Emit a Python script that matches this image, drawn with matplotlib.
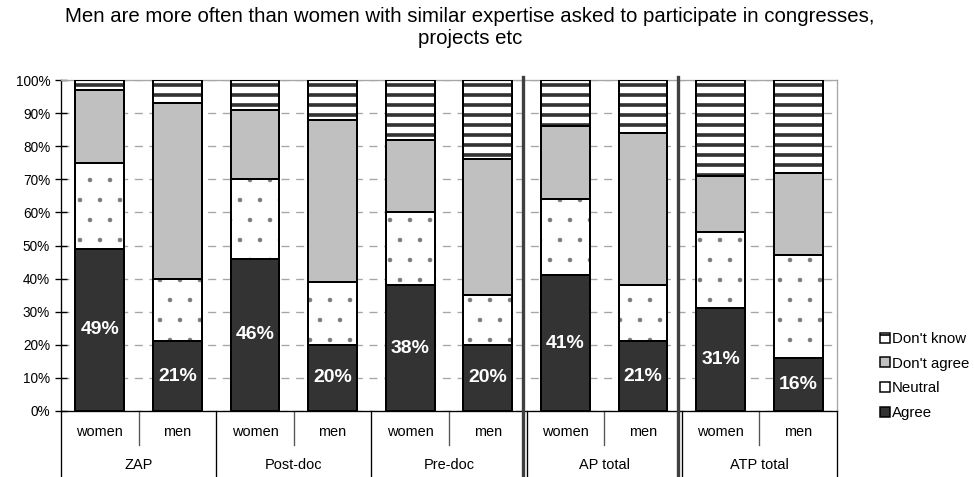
import matplotlib
matplotlib.use("Agg")
import matplotlib.pyplot as plt
import matplotlib.transforms as mtransforms
from matplotlib.patches import Patch
import numpy as np

plt.rcParams["font.family"] = ["Liberation Sans", "DejaVu Sans"]

# Survey answers (% of respondents) per group and gender
groups = ["ZAP", "Post-doc", "Pre-doc", "AP total", "ATP total"]
genders = ["women", "men"]
agree = [49, 21, 46, 20, 38, 20, 41, 21, 31, 16]
neutral = [26, 19, 24, 19, 22, 15, 23, 17, 23, 31]
disagree = [22, 53, 21, 49, 22, 41, 22, 46, 17, 25]
dont_know = [3, 7, 9, 12, 18, 24, 14, 16, 29, 28]
series_names = ["Agree", "Neutral", "Don't agree", "Don't know"]
title_lines = ["Men are more often than women with similar expertise asked to "
               "participate in congresses,", "projects etc"]

DPI = 120
W, H = 974, 477
fig = plt.figure(figsize=(W / DPI, H / DPI), dpi=DPI)
ax = fig.add_axes([61 / W, 1 - 411 / H, 776 / W, 331 / H])

n = len(agree)
x = np.arange(n) + 0.5
width = 0.63

styles = [
    dict(color="#333333", hatch=None, hcolor="#333333", hlw=0.5),
    dict(color="white", hatch=".", hcolor="#7a7a7a", hlw=0.3),
    dict(color="#c0c0c0", hatch=None, hcolor="#c0c0c0", hlw=0.5),
    dict(color="white", hatch="--", hcolor="#333333", hlw=2.2),
]

bottom = np.zeros(n)
handles = []
for vals, st, name in zip([agree, neutral, disagree, dont_know], styles, series_names):
    vals = np.asarray(vals, dtype=float)
    plt.rcParams["hatch.linewidth"] = st["hlw"]
    fill = ax.bar(x, vals, width, bottom=bottom, color=st["color"],
                  hatch=st["hatch"], edgecolor=st["hcolor"], linewidth=0,
                  zorder=2)
    for p in fill:
        if hasattr(p, "set_hatch_linewidth"):
            p.set_hatch_linewidth(st["hlw"])
    ax.bar(x, vals, width, bottom=bottom, fill=False, edgecolor="black",
           linewidth=1.2, zorder=3)
    plt.rcParams["hatch.linewidth"] = 1.0
    h = Patch(facecolor=st["color"], hatch=st["hatch"], edgecolor="black",
              linewidth=0.9)
    if hasattr(h, "set_hatch_linewidth"):
        h.set_hatch_linewidth(1.0)
    handles.append(h)
    bottom += vals

# value labels on the "Agree" segments
for xi, v in zip(x, agree):
    ax.text(xi, v / 2, f"{v}%", ha="center", va="center", color="white",
            fontsize=11.6, fontweight="bold", zorder=4)

ax.set_xlim(0, n)
ax.set_ylim(0, 100)
ax.set_yticks(np.arange(0, 101, 10))
ax.set_yticklabels([f"{v}%" for v in range(0, 101, 10)], fontsize=8.2)
ax.set_xticks([])
ax.tick_params(axis="y", direction="inout", length=7, width=0.8, pad=3)
ax.set_axisbelow(True)
ax.yaxis.grid(True, linestyle=(0, (6, 5)), color="#a6a6a6", linewidth=0.8)
for side in ("top", "right"):
    ax.spines[side].set_color("#a6a6a6")
    ax.spines[side].set_linewidth(0.8)
ax.spines["left"].set_linewidth(0.8)
ax.spines["bottom"].set_linewidth(0.8)

# category table beneath the bars
trans = mtransforms.blended_transform_factory(ax.transData, ax.transAxes)
for i, xi in enumerate(x):
    ax.text(xi, -0.062, genders[i % 2], transform=trans, ha="center",
            va="center", fontsize=8.7)
for g, name in enumerate(groups):
    ax.text(2 * g + 1, -0.162, name, transform=trans, ha="center",
            va="center", fontsize=8.7)
for b in range(1, n, 2):
    ax.plot([b, b], [0, -0.103], transform=trans, color="#555555",
            lw=0.8, clip_on=False)
for b in range(0, n + 1, 2):
    ax.plot([b, b], [0, -0.205], transform=trans, color="black",
            lw=0.8, clip_on=False)
# heavy separators in front of the totals
for b in (6, 8):
    ax.plot([b - 0.045, b - 0.045], [1.01, -0.205], transform=trans,
            color="#404040", lw=2.0, clip_on=False, zorder=5)

fig.text(470 / W, 1 - 17 / H, title_lines[0], ha="center", va="center",
         fontsize=12.2)
fig.text(470 / W, 1 - 38 / H, title_lines[1], ha="center", va="center",
         fontsize=12.2)

fig.legend(handles[::-1], series_names[::-1], loc="center left",
           bbox_to_anchor=(880 / W, 1 - 376 / H), frameon=False,
           fontsize=9.0, handlelength=0.65, handleheight=0.65,
           handletextpad=0.15, labelspacing=0.72, borderaxespad=0,
           borderpad=0)

fig.savefig("out.png", dpi=DPI)
